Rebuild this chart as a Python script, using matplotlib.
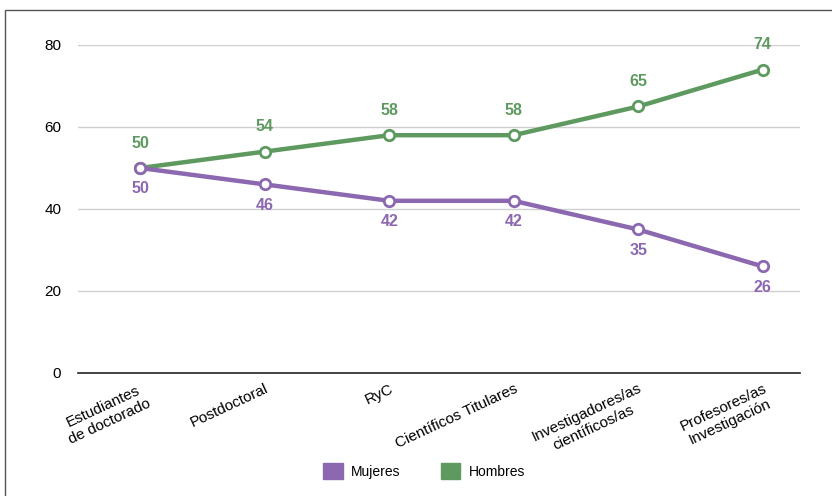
import matplotlib.pyplot as plt
from matplotlib.patches import Patch, Rectangle

plt.rcParams['font.family'] = ['Liberation Sans', 'DejaVu Sans']

# datos
categorias = ["Estudiantes\nde doctorado", "Postdoctoral", "RyC",
              "Científicos Titulares", "Investigadores/as\ncientíficos/as",
              "Profesores/as\nInvestigación"]
mujeres = [50, 46, 42, 42, 35, 26]
hombres = [50, 54, 58, 58, 65, 74]

c_muj = '#8c68b0'
c_hom = '#5e9a60'

fig = plt.figure(figsize=(8.32, 4.96), dpi=100)
ax = fig.add_axes([78 / 832, 1 - 373 / 496, 722 / 832, 328 / 496])

x = list(range(len(categorias)))
ax.plot(x, hombres, color=c_hom, lw=3.2, marker='o', ms=7.5, mfc='white',
        mec=c_hom, mew=2, zorder=3, clip_on=False)
ax.plot(x, mujeres, color=c_muj, lw=3.2, marker='o', ms=7.5, mfc='white',
        mec=c_muj, mew=2, zorder=3, clip_on=False)

for i in x:
    ax.annotate(str(hombres[i]), (i, hombres[i]), xytext=(0, 18),
                textcoords='offset points', ha='center', va='center',
                color=c_hom, fontsize=11.5, fontweight='bold')
    ax.annotate(str(mujeres[i]), (i, mujeres[i]), xytext=(0, -15),
                textcoords='offset points', ha='center', va='center',
                color=c_muj, fontsize=11.5, fontweight='bold')

ax.set_xlim(-0.5, 5.3)
ax.set_ylim(0, 80)
ax.set_yticks([0, 20, 40, 60, 80])
ax.grid(axis='y', color='#d0d0d0', lw=1)
ax.set_axisbelow(True)
for s in ['top', 'right', 'left']:
    ax.spines[s].set_visible(False)
ax.spines['bottom'].set_color('#222222')
ax.spines['bottom'].set_linewidth(1.2)
ax.tick_params(axis='y', length=0, pad=12, labelsize=11)
ax.tick_params(axis='x', length=0, pad=6)
ax.set_xticks(x)
ax.set_xticklabels(categorias, rotation=25, ha='right', rotation_mode='anchor',
                   fontsize=11, multialignment='center')

handles = [Patch(color=c_muj, label='Mujeres'), Patch(color=c_hom, label='Hombres')]
fig.legend(handles=handles, loc='center', bbox_to_anchor=(424 / 832, 1 - 471 / 496),
           ncol=2, frameon=False, fontsize=10, handlelength=1.4, handleheight=1.4,
           columnspacing=2.9, handletextpad=0.6)

fig.patches.append(Rectangle((5 / 832, -0.1), 1, 486 / 496 + 0.1,
                             transform=fig.transFigure, fill=False,
                             edgecolor='#555555', lw=1))

fig.savefig('out.png', dpi=100)
